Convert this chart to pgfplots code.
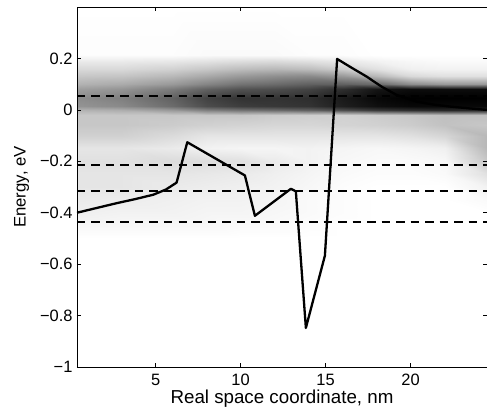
\documentclass[border=0pt]{standalone}
\usepackage{pgfplots}
\pgfplotsset{compat=1.18}
\usepackage{fontspec}
\setmainfont{Liberation Sans}
\pgfplotsset{colormap={bw}{gray(0cm)=(1); gray(1cm)=(0)}}
\begin{document}
\begin{tikzpicture}
\begin{axis}[
  name=ax,
  scale only axis,
  width=410bp, height=360bp,
  xmin=0.37, xmax=24.5, ymin=-1, ymax=0.4,
  axis on top,
  colormap name=bw,
  point meta min=0, point meta max=1,
  xtick={5,10,15,20},
  xticklabels={5,10,15,20},
  ytick={-1,-0.8,-0.6,-0.4,-0.2,0,0.2},
  yticklabels={−1,−0.8,−0.6,−0.4,−0.2,0,0.2},
  tick align=inside,
  major tick length=4bp,
  tick style={black, line width=0.6bp},
  axis line style={black, line width=0.8bp},
  ticklabel style={font=\fontsize{16.5}{19}\selectfont},
  xlabel={Real space coordinate, nm},
  ylabel={Energy, eV},
  xticklabel style={yshift=-4bp},
  yticklabel style={xshift=-1bp},
  xlabel style={font=\fontsize{18.8}{21}\selectfont, yshift=3bp},
  ylabel style={font=\fontsize{16.8}{19}\selectfont, yshift=4bp},
]
\addplot[surf, shader=interp, mesh/cols=12, point meta=explicit] table[x=x, y=y, meta=z] {
x y z
0.37 -1.00 0
3 -1.00 0
6 -1.00 0
8 -1.00 0
10 -1.00 0
12 -1.00 0
14 -1.00 0
16 -1.00 0
18 -1.00 0
20 -1.00 0
22 -1.00 0
24.5 -1.00 0

0.37 -0.50 0
3 -0.50 0
6 -0.50 0
8 -0.50 0
10 -0.50 0
12 -0.50 0
14 -0.50 0
16 -0.50 0
18 -0.50 0
20 -0.50 0
22 -0.50 0
24.5 -0.50 0

0.37 -0.45 0.03
3 -0.45 0.03
6 -0.45 0.03
8 -0.45 0.03
10 -0.45 0.02
12 -0.45 0.02
14 -0.45 0.01
16 -0.45 0
18 -0.45 0
20 -0.45 0
22 -0.45 0
24.5 -0.45 0

0.37 -0.40 0.06
3 -0.40 0.05
6 -0.40 0.05
8 -0.40 0.04
10 -0.40 0.04
12 -0.40 0.03
14 -0.40 0.02
16 -0.40 0.01
18 -0.40 0
20 -0.40 0
22 -0.40 0
24.5 -0.40 0

0.37 -0.35 0.08
3 -0.35 0.07
6 -0.35 0.06
8 -0.35 0.05
10 -0.35 0.05
12 -0.35 0.04
14 -0.35 0.02
16 -0.35 0.01
18 -0.35 0
20 -0.35 0
22 -0.35 0
24.5 -0.35 0.02

0.37 -0.30 0.10
3 -0.30 0.10
6 -0.30 0.08
8 -0.30 0.07
10 -0.30 0.06
12 -0.30 0.05
14 -0.30 0.03
16 -0.30 0.01
18 -0.30 0
20 -0.30 0
22 -0.30 0
24.5 -0.30 0.05

0.37 -0.25 0.10
3 -0.25 0.10
6 -0.25 0.10
8 -0.25 0.09
10 -0.25 0.08
12 -0.25 0.06
14 -0.25 0.04
16 -0.25 0.02
18 -0.25 0.01
20 -0.25 0.01
22 -0.25 0.02
24.5 -0.25 0.12

0.37 -0.20 0.12
3 -0.20 0.12
6 -0.20 0.14
8 -0.20 0.13
10 -0.20 0.12
12 -0.20 0.08
14 -0.20 0.05
16 -0.20 0.03
18 -0.20 0.02
20 -0.20 0.02
22 -0.20 0.03
24.5 -0.20 0.22

0.37 -0.15 0.10
3 -0.15 0.10
6 -0.15 0.08
8 -0.15 0.05
10 -0.15 0.04
12 -0.15 0.04
14 -0.15 0.05
16 -0.15 0.04
18 -0.15 0.03
20 -0.15 0.04
22 -0.15 0.06
24.5 -0.15 0.28

0.37 -0.10 0.18
3 -0.10 0.18
6 -0.10 0.14
8 -0.10 0.10
10 -0.10 0.10
12 -0.10 0.10
14 -0.10 0.10
16 -0.10 0.10
18 -0.10 0.10
20 -0.10 0.12
22 -0.10 0.16
24.5 -0.10 0.28

0.37 -0.06 0.22
3 -0.06 0.22
6 -0.06 0.20
8 -0.06 0.18
10 -0.06 0.17
12 -0.06 0.16
14 -0.06 0.16
16 -0.06 0.17
18 -0.06 0.18
20 -0.06 0.20
22 -0.06 0.24
24.5 -0.06 0.22

0.37 -0.02 0.22
3 -0.02 0.22
6 -0.02 0.22
8 -0.02 0.22
10 -0.02 0.22
12 -0.02 0.20
14 -0.02 0.19
16 -0.02 0.18
18 -0.02 0.20
20 -0.02 0.22
22 -0.02 0.25
24.5 -0.02 0.25

0.37 0.00 0.30
3 0.00 0.32
6 0.00 0.40
8 0.00 0.50
10 0.00 0.55
12 0.00 0.58
14 0.00 0.62
16 0.00 0.70
18 0.00 0.78
20 0.00 0.82
22 0.00 0.85
24.5 0.00 0.85

0.37 0.015 0.42
3 0.015 0.46
6 0.015 0.58
8 0.015 0.70
10 0.015 0.76
12 0.015 0.78
14 0.015 0.80
16 0.015 0.88
18 0.015 0.94
20 0.015 0.97
22 0.015 0.97
24.5 0.015 0.97

0.37 0.045 0.45
3 0.045 0.50
6 0.045 0.62
8 0.045 0.74
10 0.045 0.80
12 0.045 0.80
14 0.045 0.82
16 0.045 0.90
18 0.045 0.97
20 0.045 1
22 0.045 1
24.5 0.045 1

0.37 0.08 0.38
3 0.08 0.42
6 0.08 0.52
8 0.08 0.62
10 0.08 0.68
12 0.08 0.70
14 0.08 0.74
16 0.08 0.82
18 0.08 0.92
20 0.08 0.95
22 0.08 0.95
24.5 0.08 0.95

0.37 0.10 0.30
3 0.10 0.33
6 0.10 0.40
8 0.10 0.48
10 0.10 0.55
12 0.10 0.58
14 0.10 0.62
16 0.10 0.62
18 0.10 0.58
20 0.10 0.45
22 0.10 0.40
24.5 0.10 0.40

0.37 0.13 0.22
3 0.13 0.23
6 0.13 0.28
8 0.13 0.34
10 0.13 0.40
12 0.13 0.44
14 0.13 0.46
16 0.13 0.40
18 0.13 0.28
20 0.13 0.15
22 0.13 0.12
24.5 0.13 0.12

0.37 0.16 0.15
3 0.16 0.15
6 0.16 0.18
8 0.16 0.22
10 0.16 0.26
12 0.16 0.28
14 0.16 0.26
16 0.16 0.20
18 0.16 0.12
20 0.16 0.06
22 0.16 0.05
24.5 0.16 0.05

0.37 0.19 0.08
3 0.19 0.08
6 0.19 0.09
8 0.19 0.11
10 0.19 0.13
12 0.19 0.14
14 0.19 0.12
16 0.19 0.09
18 0.19 0.05
20 0.19 0.03
22 0.19 0.02
24.5 0.19 0.02

0.37 0.215 0.01
3 0.215 0.01
6 0.215 0.01
8 0.215 0.02
10 0.215 0.02
12 0.215 0.02
14 0.215 0.01
16 0.215 0.01
18 0.215 0
20 0.215 0
22 0.215 0
24.5 0.215 0

0.37 0.40 0
3 0.40 0
6 0.40 0
8 0.40 0
10 0.40 0
12 0.40 0
14 0.40 0
16 0.40 0
18 0.40 0
20 0.40 0
22 0.40 0
24.5 0.40 0
};
% dashed levels
\addplot[black, line width=1.8bp, dash pattern=on 8.5bp off 6bp] coordinates {(0.37,0.053) (24.5,0.053)};
\addplot[black, line width=1.8bp, dash pattern=on 8.5bp off 6bp] coordinates {(0.37,-0.216) (24.5,-0.216)};
\addplot[black, line width=1.8bp, dash pattern=on 8.5bp off 6bp] coordinates {(0.37,-0.317) (24.5,-0.317)};
\addplot[black, line width=1.8bp, dash pattern=on 8.5bp off 6bp] coordinates {(0.37,-0.437) (24.5,-0.437)};
% profile
\addplot[black, line width=2.3bp, line join=round] coordinates {
(0.37,-0.400) (1.5,-0.382) (2.7,-0.363) (3.8,-0.347) (4.86,-0.330) (5.6,-0.310) (6.23,-0.283)
(6.86,-0.126) (10.25,-0.255) (10.84,-0.412) (12.96,-0.307) (13.25,-0.317)
(13.84,-0.848) (14.96,-0.567) (15.68,0.198)
(16.5,0.165) (17.4,0.130) (18.3,0.090) (19.18,0.058) (20.35,0.032) (21.3,0.021) (22.3,0.013) (23.4,0.006) (24.5,0.0)
};
\end{axis}
\pgfresetboundingbox
\path ([xshift=-77bp,yshift=-48bp]ax.south west) rectangle ([yshift=7bp]ax.north east);
\end{tikzpicture}
\end{document}
